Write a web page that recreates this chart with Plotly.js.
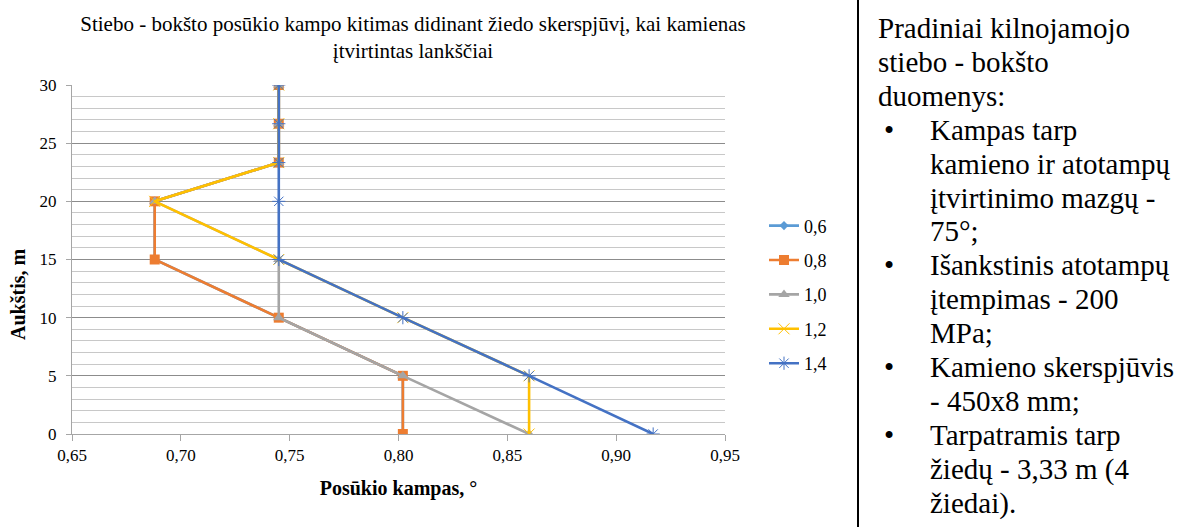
<!DOCTYPE html>
<html>
<head>
<meta charset="utf-8">
<script src="https://cdn.plot.ly/plotly-3.0.1.min.js"></script>
<style>
  html, body { margin: 0; padding: 0; background: #fff; }
  #wrap { position: relative; width: 1191px; height: 527px; overflow: hidden; }
  #chart { position: absolute; left: 0; top: 0; width: 1191px; height: 527px; }
  #divider { position: absolute; left: 857px; top: 0; width: 2px; height: 527px; background: #000; }
  #notes { position: absolute; left: 878px; top: 12px; font-family: "Liberation Serif"; font-size: 29px; line-height: 33.9px; color: #000; }
  #notes .ln { white-space: nowrap; }
  #notes .bl { position: relative; padding-left: 52px; white-space: nowrap; }
  #notes .dot { position: absolute; left: 6px; }
</style>
</head>
<body>
<div id="wrap">
  <div id="chart"></div>
  <div id="divider"></div>
  <div id="notes"></div>
</div>
<script>
// ---- data ----
var heights = [0, 5, 10, 15, 20, 23.33, 26.67, 30];
var seriesNames = ["0,6", "0,8", "1,0", "1,2", "1,4"];
var s06 = [0.802, 0.802, 0.745, 0.688, 0.688, 0.745, 0.745, 0.745];
var s08 = [0.802, 0.802, 0.745, 0.688, 0.688, 0.745, 0.745, 0.745];
var s10 = [0.860, 0.802, 0.745, 0.745, 0.688, 0.745, 0.745, 0.745];
var s12 = [0.860, 0.860, 0.802, 0.745, 0.688, 0.745, 0.745, 0.745];
var s14 = [0.917, 0.860, 0.802, 0.745, 0.745, 0.745, 0.745, 0.745];
var xTickVals = [0.65, 0.70, 0.75, 0.80, 0.85, 0.90, 0.95];
var yTickVals = [0, 5, 10, 15, 20, 25, 30];

var titleText = "Stiebo - bokšto posūkio kampo kitimas didinant žiedo skerspjūvį, kai kamienas<br>įtvirtintas lankščiai";
var xTitle = "Posūkio kampas, °";
var yTitle = "Aukštis, m";

var noteHead = ["Pradiniai kilnojamojo", "stiebo - bokšto", "duomenys:"];
var noteBullets = [
  ["Kampas tarp", "kamieno ir atotampų", "įtvirtinimo mazgų -", "75°;"],
  ["Išankstinis atotampų", "įtempimas - 200", "MPa;"],
  ["Kamieno skerspjūvis", "- 450x8 mm;"],
  ["Tarpatramis tarp", "žiedų - 3,33 m (4", "žiedai)."]
];

// ---- styles ----
var colors = ["#5B9BD5", "#ED7D31", "#A5A5A5", "#FFC000", "#4472C4"];
var symbols = ["diamond", "square", "triangle-up", "x-thin-open", "asterisk-open"];
var msizes = [7, 10, 10, 11, 11];
var allSeries = [s06, s08, s10, s12, s14];

var serif = "Liberation Serif";

var traces = allSeries.map(function (s, i) {
  return {
    type: "scatter",
    mode: "lines+markers",
    name: seriesNames[i],
    x: s,
    y: heights,
    legendgroup: "g" + i,
    line: { color: colors[i], width: 2.6 },
    marker: { symbol: symbols[i], size: msizes[i], color: colors[i],
              line: { color: colors[i], width: (i >= 3 ? 1 : 0) } }
  };
});

var layout = {
  width: 1191, height: 527,
  margin: { l: 72, r: 466, t: 85, b: 93 },
  paper_bgcolor: "#fff", plot_bgcolor: "#fff",
  separators: ", ",
  font: { family: serif, size: 17, color: "#000" },
  title: {
    text: titleText,
    font: { family: serif, size: 21, color: "#000" },
    x: 413 / 1191, xref: "container", xanchor: "center",
    y: 1 - 31 / 527, yref: "container", yanchor: "top"
  },
  xaxis: {
    range: [0.65, 0.95],
    tickvals: xTickVals,
    tickformat: ".2f",
    ticks: "outside", ticklen: 6, tickcolor: "#a6a6a6",
    showline: true, linecolor: "#a6a6a6", linewidth: 1,
    showgrid: false, zeroline: false,
    tickfont: { family: serif, size: 17, color: "#000" },
    title: { text: "<b>" + xTitle + "</b>", font: { family: serif, size: 20, color: "#000" }, standoff: 16 },
    fixedrange: true
  },
  yaxis: {
    range: [0, 30],
    tickvals: yTickVals,
    ticks: "outside", ticklen: 5, tickcolor: "#a6a6a6",
    showline: true, linecolor: "#a6a6a6", linewidth: 1,
    showgrid: true, gridcolor: "#8c8c8c", gridwidth: 1,
    zeroline: false,
    minor: { dtick: 1, showgrid: true, gridcolor: "#c8c8c8", gridwidth: 1 },
    tickfont: { family: serif, size: 17, color: "#000" },
    ticklabelstandoff: 6,
    fixedrange: true
  },
  annotations: [{
    text: "<b>" + yTitle + "</b>",
    xref: "paper", yref: "paper",
    x: (18 - 72) / 653, y: (434 - 295) / 349,
    xanchor: "center", yanchor: "middle",
    textangle: -90, showarrow: false,
    font: { family: serif, size: 20, color: "#000" }
  }],
  showlegend: true,
  legend: {
    x: (764 - 72) / 653, xref: "paper", xanchor: "left",
    y: 0.4, yanchor: "middle",
    font: { family: serif, size: 18, color: "#000" },
    tracegroupgap: 8,
    itemwidth: 30,
    bgcolor: "rgba(0,0,0,0)"
  }
};

Plotly.newPlot("chart", traces, layout, { displayModeBar: false, staticPlot: true });

// ---- side notes ----
var notes = document.getElementById("notes");
noteHead.forEach(function (t) {
  var d = document.createElement("div");
  d.className = "ln"; d.textContent = t; notes.appendChild(d);
});
noteBullets.forEach(function (group) {
  group.forEach(function (t, j) {
    var d = document.createElement("div");
    d.className = "bl";
    if (j === 0) {
      var b = document.createElement("span");
      b.className = "dot"; b.textContent = "•";
      d.appendChild(b);
    }
    d.appendChild(document.createTextNode(t));
    notes.appendChild(d);
  });
});
</script>
</body>
</html>
